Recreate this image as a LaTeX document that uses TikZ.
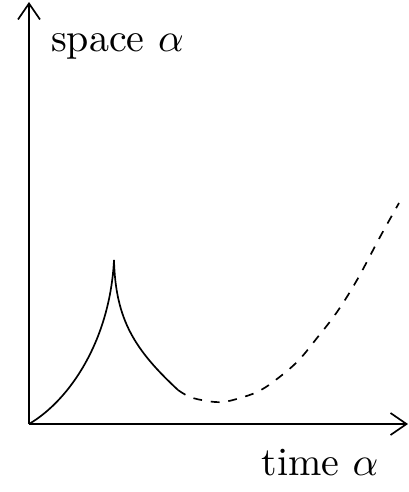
\documentclass[tikz,border=0pt]{standalone}
\usetikzlibrary{arrows.meta}
\begin{document}
\begin{tikzpicture}[x=0.25pt,y=-0.25pt,
  axis/.style={line width=0.42pt,-{Straight Barb[length=4pt,width=5.5pt]}},
  curve/.style={line width=0.42pt},
  dcurve/.style={line width=0.42pt,dash pattern=on 2.2pt off 2.2pt},
  lbl/.style={inner sep=0pt,anchor=base,font=\fontsize{10}{12}\selectfont}]
\useasboundingbox (0,0) rectangle (408,492);
\coordinate (O) at (29,424);
\coordinate (Ytop) at (29,2);
\coordinate (Xend) at (408,424);
\coordinate (P) at (114,260);
\coordinate (S) at (178,390);
\draw[axis] (O) -- (Ytop);
\draw[axis] (O) -- (Xend);
\node[lbl] (ylab) at (117.5,51) {space $\alpha$};
\node[lbl] (xlab) at (320,475) {time $\alpha$};
\draw[curve] (O) .. controls (70,400) and (110,340) .. (P)
  .. controls (115.5,320) and (135,350) .. (S);
\draw[dcurve] plot[smooth,tension=0.6] coordinates {(S) (190,397) (207,401) (223,402) (240,398) (257,392) (273,382) (297,362) (317,338) (337,312) (357,280) (380,237) (399,203)};
\end{tikzpicture}
\end{document}
